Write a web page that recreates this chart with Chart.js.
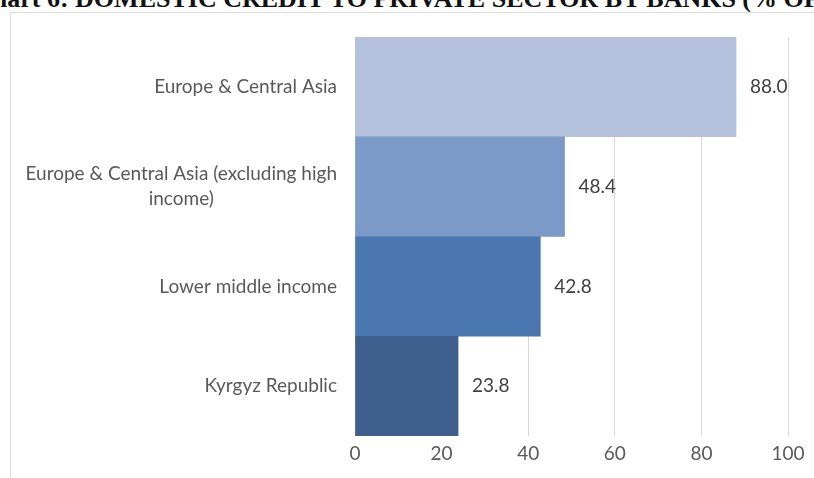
<!DOCTYPE html>
<html>
<head>
<meta charset="utf-8">
<script src="https://cdn.jsdelivr.net/npm/chart.js@4"></script>
<style>
  html, body { margin: 0; padding: 0; background: #fff; overflow: hidden; }
  #wrap { position: relative; width: 814px; height: 478px; }
  #title {
    position: absolute; left: -26px; top: -14px; white-space: nowrap;
    font: bold 26px "Liberation Serif", "Times New Roman", serif; line-height: 1;
    color: #111;
  }
  #frame {
    position: absolute; left: 10px; top: 12px; width: 900px; height: 600px;
    border: 1px solid #dcdcdc; box-sizing: border-box;
  }
  #box { position: absolute; left: 0; top: 0; width: 814px; height: 478px; }
</style>
</head>
<body>
<div id="wrap">
  <div id="title">Chart 6: DOMESTIC CREDIT TO PRIVATE SECTOR BY BANKS (% OF GDP)</div>
  <div id="frame"></div>
  <div id="box"><canvas id="chart"></canvas></div>
</div>
<script>
// domestic credit to private sector by banks, % of GDP
const categories = [
  ['Europe & Central Asia'],
  ['Europe & Central Asia (excluding high', 'income)'],
  ['Lower middle income'],
  ['Kyrgyz Republic']
];
const values = [88.0, 48.4, 42.8, 23.8];
const barColors = ['#b3c1dc', '#7b9ac8', '#4a77b0', '#3f5f8f'];
const xTicks = [0, 20, 40, 60, 80, 100];

const labelFont = '19px Lato';

// category names sit right-aligned next to the plot, multi-line ones centred as a block
const sideLabels = {
  id: 'sideLabels',
  afterDraw(chart) {
    const ctx = chart.ctx;
    const y = chart.scales.y;
    const x = chart.scales.x;
    ctx.save();
    ctx.font = labelFont;
    ctx.textBaseline = 'middle';

    categories.forEach((lines, i) => {
      const cy = y.getPixelForValue(i);
      const w = Math.max(...lines.map(l => ctx.measureText(l).width));
      const cx = x.left - 18 - w / 2;
      ctx.fillStyle = '#595959';
      ctx.textAlign = 'center';
      lines.forEach((l, j) => {
        ctx.fillText(l, cx, cy + (j - (lines.length - 1) / 2) * 25);
      });
    });

    // value labels at the end of each bar
    ctx.fillStyle = '#404040';
    ctx.textAlign = 'left';
    values.forEach((v, i) => {
      ctx.fillText(v.toFixed(1), x.getPixelForValue(v) + 14, y.getPixelForValue(i));
    });
    ctx.restore();
  }
};

new Chart(document.getElementById('chart'), {
  type: 'bar',
  data: {
    labels: categories.map(c => c.join(' ')),
    datasets: [{
      data: values,
      backgroundColor: barColors,
      barPercentage: 1,
      categoryPercentage: 1
    }]
  },
  options: {
    indexAxis: 'y',
    responsive: true,
    maintainAspectRatio: false,
    animation: false,
    layout: { padding: { top: 37, right: 26, left: 0, bottom: 0 } },
    scales: {
      x: {
        min: 0,
        max: 100,
        afterBuildTicks: s => { s.ticks = xTicks.map(v => ({ value: v })); },
        afterFit: s => { s.height = 42; },
        ticks: { color: '#595959', font: { family: 'Lato', size: 19 }, padding: 6 },
        grid: { color: '#d9d9d9', drawTicks: false },
        border: { display: false }
      },
      y: {
        afterFit: s => { s.width = 355; },
        ticks: { display: false },
        grid: { display: false },
        border: { display: false }
      }
    },
    plugins: {
      legend: { display: false },
      tooltip: { enabled: false }
    }
  },
  plugins: [sideLabels]
});
</script>
</body>
</html>
